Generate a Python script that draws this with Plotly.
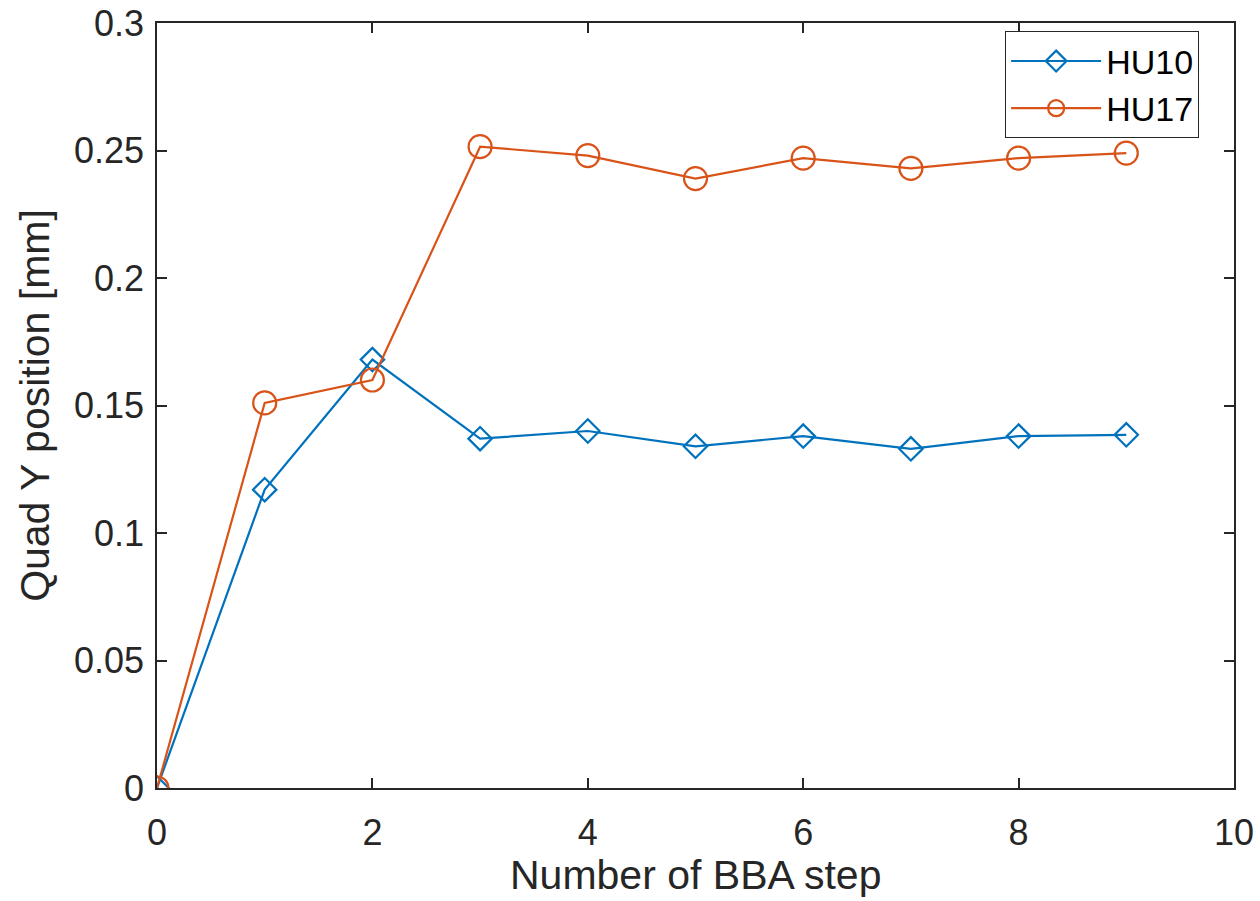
import plotly.graph_objects as go

steps = [0, 1, 2, 3, 4, 5, 6, 7, 8, 9]
hu10 = [0.0, 0.117, 0.168, 0.137, 0.140, 0.134, 0.138, 0.133, 0.138, 0.1385]
hu17 = [0.0, 0.151, 0.160, 0.2515, 0.248, 0.239, 0.247, 0.243, 0.247, 0.249]

x_ticks = [0, 2, 4, 6, 8, 10]
y_ticks = [0, 0.05, 0.1, 0.15, 0.2, 0.25, 0.3]
y_tick_text = ["0", "0.05", "0.1", "0.15", "0.2", "0.25", "0.3"]

x_title = "Number of BBA step"
y_title = "Quad Y position [mm]"

BLUE = "#0072BD"
ORANGE = "#D95319"
AX = "#262626"
FONT = "Liberation Sans, Arial, Helvetica, sans-serif"

fig = go.Figure()
fig.add_trace(go.Scatter(
    x=steps, y=hu10, name="HU10", mode="lines+markers",
    line=dict(color=BLUE, width=2.2),
    marker=dict(symbol="diamond-open", size=18, color=BLUE, line=dict(width=2.2, color=BLUE)),
))
fig.add_trace(go.Scatter(
    x=steps, y=hu17, name="HU17", mode="lines+markers",
    line=dict(color=ORANGE, width=2.2),
    marker=dict(symbol="circle-open", size=23, color=ORANGE, line=dict(width=2.2, color=ORANGE)),
))

axis_common = dict(
    showgrid=False, zeroline=False, showline=True, linecolor=AX, linewidth=1.5,
    mirror="ticks", ticks="inside", ticklen=10, tickwidth=1.5, tickcolor=AX,
    tickfont=dict(family=FONT, size=36, color=AX),
)

fig.update_layout(
    width=1260, height=901,
    margin=dict(l=156.5, r=26, t=22.5, b=113, autoexpand=False),
    paper_bgcolor="white", plot_bgcolor="white",
    font=dict(family=FONT, color=AX),
    xaxis=dict(range=[0, 10], tickvals=x_ticks, ticktext=[str(t) for t in x_ticks],
               ticklabelstandoff=12, **axis_common),
    yaxis=dict(range=[0, 0.3], tickvals=y_ticks, ticktext=y_tick_text,
               title=dict(text=y_title, font=dict(family=FONT, size=41, color=AX), standoff=12),
               ticklabelstandoff=4, **axis_common),
    legend=dict(x=0.7875, y=0.989, xanchor="left", yanchor="top",
                bordercolor=AX, borderwidth=1, bgcolor="white",
                font=dict(family=FONT, size=34, color="black"),
                itemwidth=90, tracegroupgap=0),
    showlegend=True,
    annotations=[dict(text=x_title, xref="paper", yref="paper", x=0.5, y=-0.1465,
                      xanchor="center", yanchor="bottom", showarrow=False,
                      font=dict(family=FONT, size=41, color=AX))],
)

fig.write_html("out.html")
